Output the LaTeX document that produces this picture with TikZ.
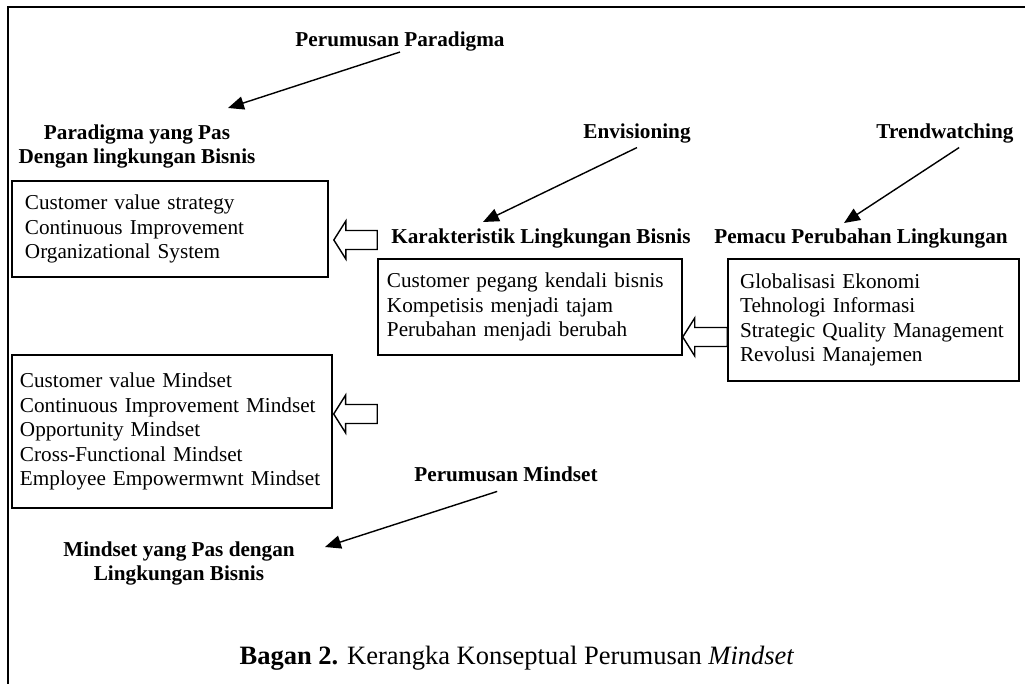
\documentclass[tikz,border=0pt]{standalone}
\usepackage{fontspec}
\setmainfont{Liberation Serif}
\usetikzlibrary{calc,positioning,arrows.meta}

\tikzset{
  listbox/.style={draw,line width=0.8pt,align=left,inner ysep=0pt},
  lbl/.style={font=\fontsize{12}{13.9}\selectfont\bfseries,inner sep=0pt,anchor=base},
  lbltwo/.style={font=\fontsize{12}{13.9}\selectfont\bfseries,inner sep=0pt,align=center},
  pointer/.style={line width=0.8pt,-{Triangle[length=9pt,width=7.5pt]}},
  hollow/.style={line width=0.8pt,line join=miter},
}
% hollow block arrow pointing left: #1 = tip, #2 = tail (same height)
\newcommand{\hollowarrow}[2]{%
  \draw[hollow] (#1) -- ++(12,-19) -- ++(0,9.5) -- ($(#2)+(0,-9.5)$)
    -- ++(0,19) -- ($(#1)+(12,9.5)$) -- ++(0,9.5) -- cycle;}

\begin{document}
\begin{tikzpicture}[x=0.566pt,y=-0.566pt,font=\fontsize{12}{13.9}\selectfont]
  \useasboundingbox (0,0) rectangle (1025,684);
  %\draw[help lines,step=50] (0,0) grid (1025,684); %help grid
  \draw[line width=1pt] (1030,7) -- (8,7) -- (8,690);

  % headings
  \node[lbl] (perPar) at (400,47) {Perumusan Paradigma};
  \node[lbltwo] (pasPar) at (137,146.6) {Paradigma yang Pas\\Dengan lingkungan Bisnis};
  \node[lbl] (envi) at (637,139) {Envisioning};
  \node[lbl] (trend) at (945,139) {Trendwatching};
  \node[lbl] (karak) at (541,244) {Karakteristik Lingkungan Bisnis};
  \node[lbl] (pemacu) at (861,244) {Pemacu Perubahan Lingkungan};
  \node[lbl] (perMind) at (506,482) {Perumusan Mindset};
  \node[lbltwo] (pasMind) at (179,563.6) {Mindset yang Pas dengan\\Lingkungan Bisnis};

  % boxes
  \node[listbox,inner xsep=7.4pt,text width=164.2pt,minimum height=54.3pt] (paradigma) at (170,229)
    {Customer value strategy\\Continuous Improvement\\Organizational System};
  \node[listbox,inner xsep=5.1pt,text width=161.9pt,minimum height=54.3pt] (ciri) at (530,307)
    {Customer pegang kendali bisnis\\Kompetisis menjadi tajam\\Perubahan menjadi berubah};
  \node[listbox,inner xsep=6.8pt,text width=151.1pt,minimum height=69.1pt] (pemicu) at (873.5,320)
    {Globalisasi Ekonomi\\Tehnologi Informasi\\Strategic Quality Management\\Revolusi Manajemen};
  \node[listbox,inner xsep=4.5pt,text width=172.1pt,minimum height=86.6pt] (mindset) at (172,431.5)
    {Customer value Mindset\\Continuous Improvement Mindset\\Opportunity Mindset\\Cross-Functional Mindset\\Employee Empowermwnt Mindset};

  % pointers
  \coordinate (endPar) at (228,108);
  \coordinate (endKar) at (483,222);
  \coordinate (endPem) at (844,223);
  \coordinate (endMind) at (325,547);
  \draw[pointer] (perPar.south) -- (endPar);
  \draw[pointer] ([yshift=-2pt]envi.south) -- (endKar);
  \draw[pointer] ([xshift=8pt,yshift=-2pt]trend.south) -- (endPem);
  \draw[pointer] ([xshift=-5pt,yshift=-5pt]perMind.south) -- (endMind);

  % block arrows
  \coordinate (tipA) at ($(paradigma.east)+(5,11)$);
  \coordinate (tailA) at (ciri.west |- tipA);
  \coordinate (tailB) at ($(pemicu.west)+(0,17)$);
  \coordinate (tipB) at (ciri.east |- tailB);
  \coordinate (tipC) at ($(mindset.east)+(1,-17.5)$);
  \coordinate (tailC) at (ciri.west |- tipC);
  \hollowarrow{tipA}{tailA}
  \hollowarrow{tipB}{tailB}
  \hollowarrow{tipC}{tailC}

  \node[anchor=base,inner sep=0pt,font=\fontsize{15}{18}\selectfont] (caption) at (517,665)
    {\textbf{Bagan 2.} Kerangka Konseptual Perumusan \textit{Mindset}};
\end{tikzpicture}
\end{document}
